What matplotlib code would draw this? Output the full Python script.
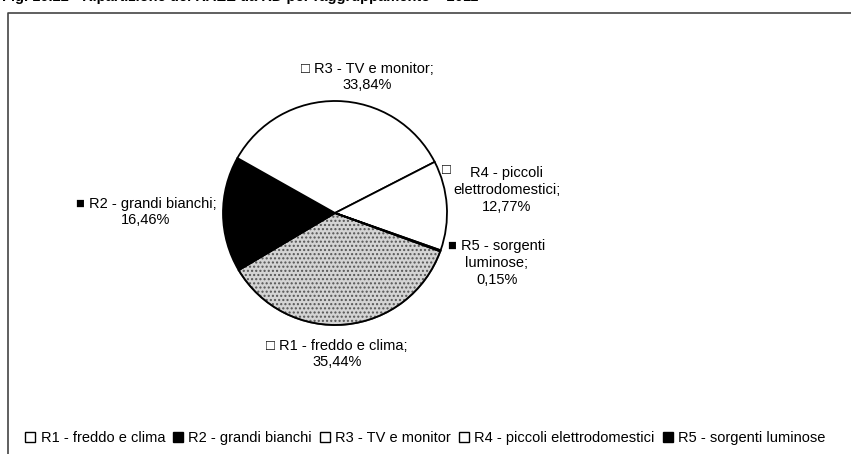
import matplotlib.pyplot as plt
from matplotlib.lines import Line2D
from matplotlib.patches import Wedge

plt.rcParams['font.family'] = ['Liberation Sans', 'DejaVu Sans']

# Data
categories = ['R1 - freddo e clima', 'R2 - grandi bianchi', 'R3 - TV e monitor',
              'R4 - piccoli elettrodomestici', 'R5 - sorgenti luminose']
shares = [35.44, 16.46, 33.84, 12.77, 0.15]
labels_pct = ['35,44%', '16,46%', '33,84%', '12,77%', '0,15%']
title = 'Fig. 10.22 - Ripartizione dei RAEE da RD per raggruppamento \u2013 2011'

fills = ['#d4d4d4', 'black', 'white', 'white', 'black']
marks = ['\u25a1', '\u25a0', '\u25a1', '\u25a1', '\u25a0']

W, H = 851, 454
fig = plt.figure(figsize=(W / 100, H / 100), dpi=100)
ax = fig.add_axes([0, 0, 1, 1])

wedges, _ = ax.pie(shares, colors=fills, startangle=-20, counterclock=False,
                   center=(335, 241), radius=112,
                   wedgeprops=dict(edgecolor='black', linewidth=1.3))
# stippled grey for R1, with a black outline on top
w0 = wedges[0]
w0.set_hatch('....')
w0.set_edgecolor('#555555')
ax.add_patch(Wedge(w0.center, w0.r, w0.theta1, w0.theta2, fill=False,
                   edgecolor='black', linewidth=1.3))

ax.set_xlim(0, W)
ax.set_ylim(0, H)
ax.set_axis_off()

fs = 10.5
ls = 1.25
# slice labels
ax.text(367, 377, marks[2] + ' ' + categories[2] + ';\n' + labels_pct[2],
        ha='center', va='center', fontsize=fs, linespacing=ls)
ax.text(446, 284, marks[3], ha='center', va='center', fontsize=fs)
ax.text(507, 264, 'R4 - piccoli\nelettrodomestici;\n' + labels_pct[3],
        ha='center', va='center', fontsize=fs, linespacing=ls)
ax.text(497, 191, marks[4] + ' R5 - sorgenti\nluminose;\n' + labels_pct[4],
        ha='center', va='center', fontsize=fs, linespacing=ls)
ax.text(146, 242, marks[1] + ' ' + categories[1] + ';\n' + labels_pct[1],
        ha='center', va='center', fontsize=fs, linespacing=ls)
ax.text(337, 100, marks[0] + ' ' + categories[0] + ';\n' + labels_pct[0],
        ha='center', va='center', fontsize=fs, linespacing=ls)

# legend
handles = [Line2D([], [], linestyle='none', marker='s', markersize=7,
                  markerfacecolor='white' if f != 'black' else 'black',
                  markeredgecolor='black', markeredgewidth=1.0)
           for f in fills]
leg = ax.legend(handles, categories, loc='center', bbox_to_anchor=(425 / W, 16 / H),
                ncol=5, frameon=False, fontsize=fs, handlelength=0.8,
                handletextpad=0.3, columnspacing=0.5, borderpad=0)

# frame
ax.plot([8, 8, W], [-5, H - 13, H - 13], color='#444444', linewidth=1.2)

# title (cut at top edge in the scan)
ax.text(2, H + 3, title, ha='left', va='center', fontsize=10.5, fontweight='bold')

fig.savefig('out.png', dpi=100)
